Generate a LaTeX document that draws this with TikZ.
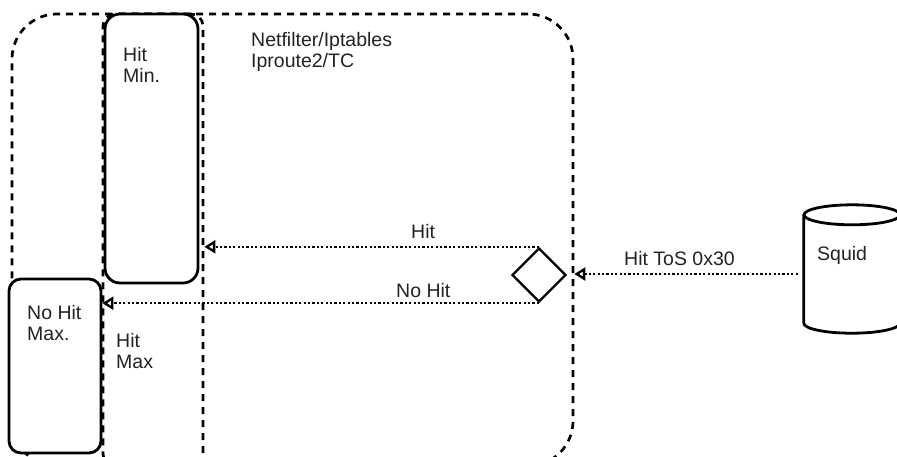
\documentclass[tikz,border=0pt]{standalone}
\usepackage{fontspec}
\setmainfont{Liberation Sans}
\usetikzlibrary{shapes.geometric,arrows.meta}
\definecolor{txt}{HTML}{222222}
\begin{document}
\begin{tikzpicture}[x=1pt,y=-1pt,
  lbl/.style={inner sep=0pt, font=\fontsize{19.5}{21}\selectfont, text=txt, align=left},
  solidbox/.style={draw=black, fill=white, line width=2.8pt, inner sep=0pt},
  dashbox/.style={draw=black, line width=2.7pt, dash pattern=on 7pt off 6pt, inner sep=0pt},
  conn/.style={line width=2.4pt, dash pattern=on 2.2pt off 2.2pt,
    -{Triangle[open,length=11pt,width=13pt,line width=2.4pt]}}
]
\useasboundingbox (0,0) rectangle (897,456);
\clip (0,0) rectangle (897,456);

% containers
\node[dashbox, rounded corners=45pt, minimum width=561pt, minimum height=452pt] (netf) at (292.5,240) {};
\node[dashbox, rounded corners=12pt, minimum width=100pt, minimum height=452pt] (hitmax) at (153,240) {};

% boxes
\node[solidbox, rounded corners=15pt, minimum width=93pt, minimum height=269pt] (hitmin) at (151.5,148.5) {};
\node[solidbox, rounded corners=12pt, minimum width=92pt, minimum height=174pt] (nohit) at (55,366) {};
\node[draw=black, diamond, line width=2.4pt, inner sep=0pt, aspect=1,
      minimum width=54pt, minimum height=54pt] (dia) at (539,275) {};

% squid cylinder
\node[inner sep=0pt, minimum width=96pt, minimum height=128pt] (squid) at (852,269) {};
\draw[line width=2.8pt]
  ([yshift=-10pt]squid.north west) -- ([yshift=10pt]squid.south west)
  arc[start angle=180, end angle=360, x radius=48pt, y radius=10pt]
  -- ([yshift=-10pt]squid.north east);
\draw[line width=2.8pt] ([yshift=-10pt]squid.north) ellipse [x radius=48pt, y radius=10pt];

% labels
\node[lbl, anchor=north west] (tnetf) at (251,32) {Netfilter/Iptables\\Iproute2/TC};
\node[lbl, anchor=north west] (thitmin) at (123,47) {Hit\\Min.};
\node[lbl, anchor=north west] (tnohit) at (27,305) {No Hit\\Max.};
\node[lbl, anchor=north west] (thitmax) at (116,333) {Hit\\Max};
\node[lbl, anchor=base west] (thit) at (411,238) {Hit};
\node[lbl, anchor=base west] (tnohitl) at (396,297) {No Hit};
\node[lbl, anchor=base west] (ttos) at (624,265) {Hit ToS 0x30};
\node[lbl, anchor=base west] (tsquid) at (817,260) {Squid};

% connectors
\draw[conn] (dia.north) -- (dia.north -| hitmax.east);
\draw[conn] (dia.south) -- (dia.south -| nohit.east);
\draw[conn, shorten <=6pt] ([yshift=-5pt]squid.west) -- ([yshift=-5pt]squid.west -| netf.east);
\end{tikzpicture}
\end{document}
